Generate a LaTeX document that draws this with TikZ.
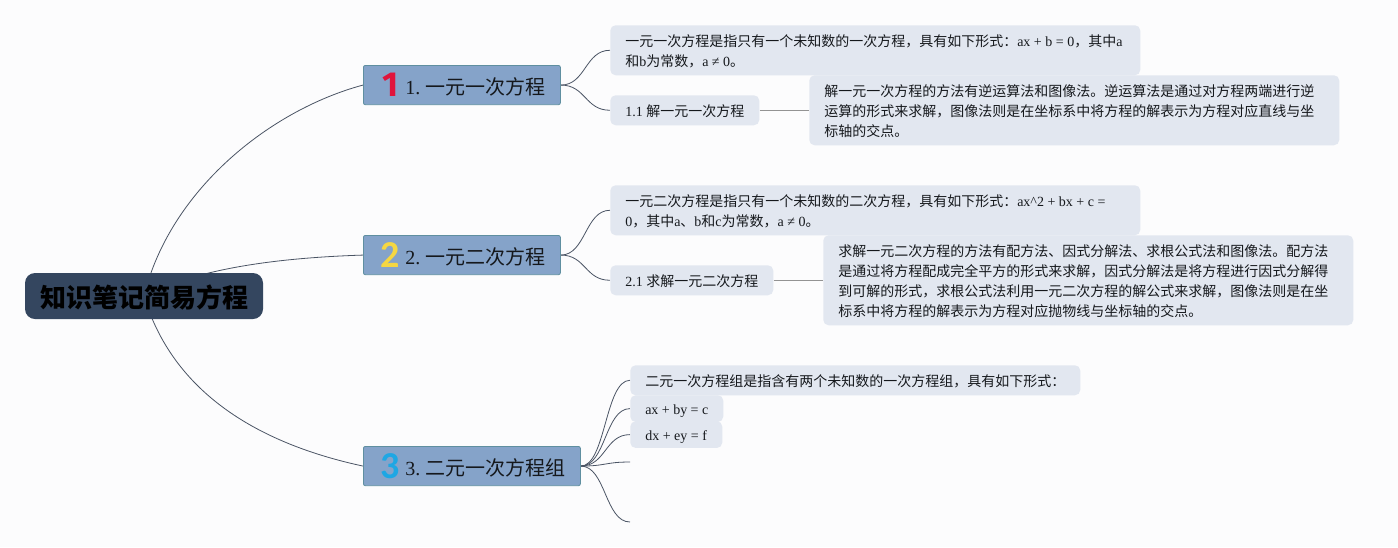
\documentclass[tikz,border=0pt]{standalone}
\usepackage{fontspec}
\setmainfont{Liberation Serif}
\newfontfamily\cjk{Noto Sans CJK SC}
\newfontfamily\iconfont{Carlito}
\newfontfamily\iconfontone{Fira Sans}
\newcommand{\zh}[1]{{\cjk #1}}
\usetikzlibrary{backgrounds}
\definecolor{pagebg}{HTML}{FCFCFD}
\definecolor{rootfill}{HTML}{34465F}
\definecolor{branchfill}{HTML}{85A3C9}
\definecolor{branchline}{HTML}{5F8FA0}
\definecolor{leaffill}{HTML}{E2E7F0}
\definecolor{linkcol}{HTML}{4A5464}
\definecolor{inkcol}{HTML}{15181C}
\definecolor{iconred}{HTML}{E0143C}
\definecolor{iconyellow}{HTML}{F5D742}
\definecolor{iconblue}{HTML}{1EA7E4}
\tikzset{
  rootbox/.style={fill=rootfill,rounded corners=7.5pt,minimum width=178.5pt,minimum height=34.5pt,
    inner sep=0pt,text=black,execute at begin node=\rule{0pt}{19pt},
    font=\cjk\bfseries\fontsize{19.5}{24}\selectfont},
  branchbox/.style={fill=branchfill,draw=branchline,line width=.6pt,rounded corners=1.5pt,anchor=north west,
    minimum height=29.5pt,inner sep=0pt,align=flush left,text=inkcol,
    execute at begin node=\hspace*{31.5pt}\rule{0pt}{16pt},font=\fontsize{15}{18}\selectfont},
  leafbox/.style={fill=leaffill,rounded corners=4pt,anchor=north west,inner xsep=11.25pt,inner ysep=0pt,
    align=flush left,text=inkcol,execute at begin node=\leavevmode\rule{0pt}{10.5pt},
    font=\fontsize{10.5}{15}\selectfont},
  iconnum/.style={font=\iconfont\bfseries\fontsize{28.5}{28.5}\selectfont,inner sep=0pt},
  link/.style={draw=linkcol,line width=.6pt},
  stemlink/.style={draw=gray!85,line width=.9pt}
}
\begin{document}
\begin{tikzpicture}[x=.75pt,y=-.75pt]
\useasboundingbox (0,0) rectangle (1398,547);
\node[rootbox] (root) at (144,296) {知识笔记简易方程};
\node[branchbox,text width=147.75pt] (one) at (363,65) {1.~\zh{一元一次方程}};
\node[branchbox,text width=147.75pt] (two) at (363,235) {2.~\zh{一元二次方程}};
\node[branchbox,text width=162.75pt] (three) at (363,446) {3.~\zh{二元一次方程组}};
\node[iconnum,text=iconred,font=\iconfontone\bfseries\fontsize{26}{26}\selectfont] (iconone) at (391,85) {1};
\node[iconnum,text=iconyellow] (icontwo) at (390.5,255) {2};
\node[iconnum,text=iconblue] (iconthree) at (390,466) {3};
\node[leafbox,text width=375pt,minimum height=37.5pt] (eqone) at (610,25)
{\zh{一元一次方程是指只有一个未知数的一次方程，具有如下形式：}ax + b = 0\zh{，其中}a\\\zh{和}b\zh{为常数，}a ≠ 0\zh{。}};
\node[leafbox,text width=89.25pt,minimum height=22.5pt] (solveone) at (610,95) {1.1~\zh{解一元一次方程}};
\node[leafbox,text width=375pt,minimum height=52.5pt] (methodone) at (809,75)
{\zh{解一元一次方程的方法有逆运算法和图像法。逆运算法是通过对方程两端进行逆}\\
\zh{运算的形式来求解，图像法则是在坐标系中将方程的解表示为方程对应直线与坐}\\
\zh{标轴的交点。}};
\node[leafbox,text width=375pt,minimum height=37.5pt] (eqtwo) at (610,185)
{\zh{一元二次方程是指只有一个未知数的二次方程，具有如下形式：}ax\^{}2 + bx + c =\\
0\zh{，其中}a\zh{、}b\zh{和}c\zh{为常数，}a ≠ 0\zh{。}};
\node[leafbox,text width=99.75pt,minimum height=22.5pt] (solvetwo) at (610,265) {2.1~\zh{求解一元二次方程}};
\node[leafbox,text width=375pt,minimum height=67.5pt] (methodtwo) at (823,235)
{\zh{求解一元二次方程的方法有配方法、因式分解法、求根公式法和图像法。配方法}\\
\zh{是通过将方程配成完全平方的形式来求解，因式分解法是将方程进行因式分解得}\\
\zh{到可解的形式，求根公式法利用一元二次方程的解公式来求解，图像法则是在坐}\\
\zh{标系中将方程的解表示为方程对应抛物线与坐标轴的交点。}};
\node[leafbox,text width=315pt,minimum height=22.5pt] (eqthree) at (630,365)
{\zh{二元一次方程组是指含有两个未知数的一次方程组，具有如下形式：}};
\node[leafbox,text width=47.25pt,minimum height=20pt] (sysa) at (630,395) {ax~+~by~=~c};
\node[leafbox,text width=46.5pt,minimum height=20pt] (sysb) at (630,421) {dx~+~ey~=~f};
\coordinate (endd) at (630,462);
\coordinate (ende) at (630,522);
\begin{scope}[on background layer]
\fill[pagebg] (0,0) rectangle (1398,547);
\draw[link] (root.center) .. controls +(26,-106) and +(-93,25) .. (one.west);
\draw[link] (root.center) .. controls +(51,-26) and +(-93,3) .. (two.west);
\draw[link] (root.center) .. controls +(31,104) and +(-93,-20) .. (three.west);
\draw[link] (one.east) .. controls +(25,0) and +(-25,0) .. (eqone.west);
\draw[link] (one.east) .. controls +(25,0) and +(-25,0) .. (solveone.west);
\draw[stemlink] (solveone.east) -- (solveone.east -| methodone.west);
\draw[link] (two.east) .. controls +(25,0) and +(-25,0) .. (eqtwo.west);
\draw[link] (two.east) .. controls +(25,0) and +(-25,0) .. (solvetwo.west);
\draw[stemlink] (solvetwo.east) -- (solvetwo.east -| methodtwo.west);
\draw[link] (three.east) .. controls +(25,0) and +(-25,0) .. (eqthree.west);
\draw[link] (three.east) .. controls +(25,0) and +(-25,0) .. (sysa.west);
\draw[link] (three.east) .. controls +(25,0) and +(-25,0) .. (sysb.west);
\draw[link] (three.east) .. controls +(25,0) and +(-25,0) .. (endd);
\draw[link] (three.east) .. controls +(25,0) and +(-25,0) .. (ende);
\end{scope}
\end{tikzpicture}
\end{document}
